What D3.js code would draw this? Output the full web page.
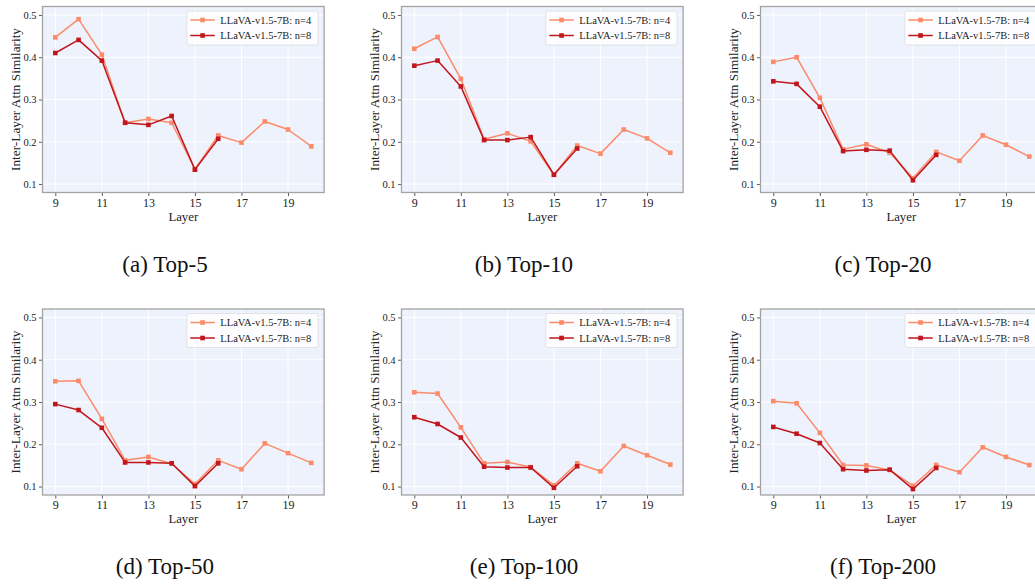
<!DOCTYPE html>
<html>
<head>
<meta charset="utf-8">
<script src="https://cdn.jsdelivr.net/npm/d3@7"></script>
<style>
  html, body { margin: 0; padding: 0; background: #ffffff; }
  svg { display: block; }
</style>
</head>
<body>
<svg id="chart" width="1035" height="584"></svg>
<script>
// ---------- data ----------
const layersN4 = [9, 10, 11, 12, 13, 14, 15, 16, 17, 18, 19, 20];
const layersN8 = [9, 10, 11, 12, 13, 14, 15, 16];
const xTicks = [9, 11, 13, 15, 17, 19];
const yTicks = [0.1, 0.2, 0.3, 0.4, 0.5];
const seriesNames = ["LLaVA-v1.5-7B: n=4", "LLaVA-v1.5-7B: n=8"];
const captions = ["(a) Top-5", "(b) Top-10", "(c) Top-20", "(d) Top-50", "(e) Top-100", "(f) Top-200"];

const top5_n4   = [0.447, 0.490, 0.406, 0.245, 0.254, 0.245, 0.135, 0.215, 0.198, 0.248, 0.229, 0.189];
const top5_n8   = [0.410, 0.441, 0.392, 0.245, 0.240, 0.261, 0.134, 0.207];
const top10_n4  = [0.420, 0.448, 0.349, 0.206, 0.220, 0.201, 0.122, 0.191, 0.172, 0.229, 0.208, 0.174];
const top10_n8  = [0.380, 0.392, 0.331, 0.204, 0.204, 0.211, 0.122, 0.184];
const top20_n4  = [0.389, 0.400, 0.304, 0.182, 0.194, 0.174, 0.114, 0.176, 0.155, 0.215, 0.193, 0.165];
const top20_n8  = [0.343, 0.337, 0.283, 0.178, 0.181, 0.179, 0.109, 0.169];
const top50_n4  = [0.349, 0.350, 0.260, 0.162, 0.170, 0.154, 0.106, 0.162, 0.141, 0.202, 0.179, 0.156];
const top50_n8  = [0.295, 0.281, 0.239, 0.157, 0.157, 0.155, 0.101, 0.155];
const top100_n4 = [0.323, 0.320, 0.240, 0.155, 0.158, 0.146, 0.103, 0.155, 0.136, 0.196, 0.174, 0.152];
const top100_n8 = [0.264, 0.248, 0.216, 0.147, 0.145, 0.145, 0.097, 0.148];
const top200_n4 = [0.302, 0.297, 0.227, 0.151, 0.150, 0.139, 0.102, 0.151, 0.134, 0.193, 0.170, 0.151];
const top200_n8 = [0.241, 0.225, 0.203, 0.141, 0.138, 0.140, 0.094, 0.144];

const panelN4 = [top5_n4, top10_n4, top20_n4, top50_n4, top100_n4, top200_n4];
const panelN8 = [top5_n8, top10_n8, top20_n8, top50_n8, top100_n8, top200_n8];

// ---------- style ----------
const colors = ["#fc8b6a", "#c1161c"];
const bg = "#eef2fd";
const frameColor = "#a3a3a3";
const serif = "'Liberation Serif', 'DejaVu Serif', serif";

const svg = d3.select("#chart");
const W = 281.6, H = 186;
const colLeft = [42.5, 401.5, 760.5];
const rowTop = [6.5, 309.0];

panelN4.forEach((n4, i) => {
  const col = i % 3, row = Math.floor(i / 3);
  const left = colLeft[col], top = rowTop[row];
  const x = d3.scaleLinear().domain([8.45, 20.55]).range([0, W]);
  const y = d3.scaleLinear().domain([0.08, 0.52]).range([H, 0]);
  const g = svg.append("g").attr("transform", `translate(${left},${top})`);

  g.append("rect").attr("x", 0).attr("y", 0).attr("width", W).attr("height", H).attr("fill", bg);

  // grid
  g.selectAll(".gy").data(yTicks).enter().append("line")
    .attr("x1", 0).attr("x2", W).attr("y1", d => y(d)).attr("y2", d => y(d))
    .attr("stroke", "#ffffff").attr("stroke-width", 1);
  g.selectAll(".gx").data(xTicks).enter().append("line")
    .attr("y1", 0).attr("y2", H).attr("x1", d => x(d)).attr("x2", d => x(d))
    .attr("stroke", "#ffffff").attr("stroke-width", 1);

  // axes
  const xAxis = g.append("g").attr("transform", `translate(0,${H})`)
    .call(d3.axisBottom(x).tickValues(xTicks).tickSize(3.5).tickPadding(2).tickFormat(d3.format("d")));
  xAxis.select(".domain").remove();
  xAxis.selectAll("line").attr("stroke", "#333").attr("stroke-width", 0.8);
  xAxis.selectAll("text").attr("font-family", serif).attr("font-size", 12).attr("fill", "#222");

  const yAxis = g.append("g")
    .call(d3.axisLeft(y).tickValues(yTicks).tickSize(3.5).tickPadding(2.5).tickFormat(d3.format(".1f")));
  yAxis.select(".domain").remove();
  yAxis.selectAll("line").attr("stroke", "#333").attr("stroke-width", 0.8);
  yAxis.selectAll("text").attr("font-family", serif).attr("font-size", 10.5).attr("fill", "#222");

  // lines
  const seriesData = [
    layersN4.map((l, k) => [l, n4[k]]),
    layersN8.map((l, k) => [l, panelN8[i][k]])
  ];
  const line = d3.line().x(d => x(d[0])).y(d => y(d[1]));
  seriesData.forEach((s, si) => {
    g.append("path").datum(s).attr("d", line).attr("fill", "none")
      .attr("stroke", colors[si]).attr("stroke-width", 1.5).attr("stroke-linejoin", "round");
    g.selectAll(".m" + si).data(s).enter().append("rect")
      .attr("x", d => x(d[0]) - 2.3).attr("y", d => y(d[1]) - 2.3)
      .attr("width", 4.6).attr("height", 4.6).attr("fill", colors[si]);
  });

  // frame
  g.append("rect").attr("x", 0).attr("y", 0).attr("width", W).attr("height", H)
    .attr("fill", "none").attr("stroke", frameColor).attr("stroke-width", 1.3);

  // legend
  const lg = g.append("g").attr("transform", `translate(${W - 6 - 131.3},4.5)`);
  lg.append("rect").attr("x", 0).attr("y", 0).attr("width", 131.3).attr("height", 34)
    .attr("rx", 2.5).attr("fill", "#ffffff").attr("fill-opacity", 0.85)
    .attr("stroke", "#dddddd").attr("stroke-width", 0.8);
  seriesNames.forEach((nm, si) => {
    const yy = 9 + si * 15.5;
    lg.append("line").attr("x1", 3.5).attr("x2", 28).attr("y1", yy).attr("y2", yy)
      .attr("stroke", colors[si]).attr("stroke-width", 1.5);
    lg.append("rect").attr("x", 15.75 - 2.3).attr("y", yy - 2.3).attr("width", 4.6).attr("height", 4.6)
      .attr("fill", colors[si]);
    lg.append("text").attr("x", 33.5).attr("y", yy).attr("dy", "0.35em")
      .attr("font-family", serif).attr("font-size", 10.5).attr("fill", "#222").text(nm);
  });

  // axis labels
  g.append("text").attr("x", W / 2).attr("y", H + 28).attr("text-anchor", "middle")
    .attr("font-family", serif).attr("font-size", 12.8).attr("fill", "#222").text("Layer");
  g.append("text").attr("transform", `translate(${-27},${H / 2}) rotate(-90)`)
    .attr("text-anchor", "middle").attr("dy", "0.35em")
    .attr("font-family", serif).attr("font-size", 13.3).attr("fill", "#222").text("Inter-Layer Attn Similarity");

  // caption
  svg.append("text").attr("x", left + 122.5).attr("y", top + 265.2).attr("text-anchor", "middle")
    .attr("font-family", serif).attr("font-size", 23).attr("fill", "#111").text(captions[i]);
});
</script>
</body>
</html>
